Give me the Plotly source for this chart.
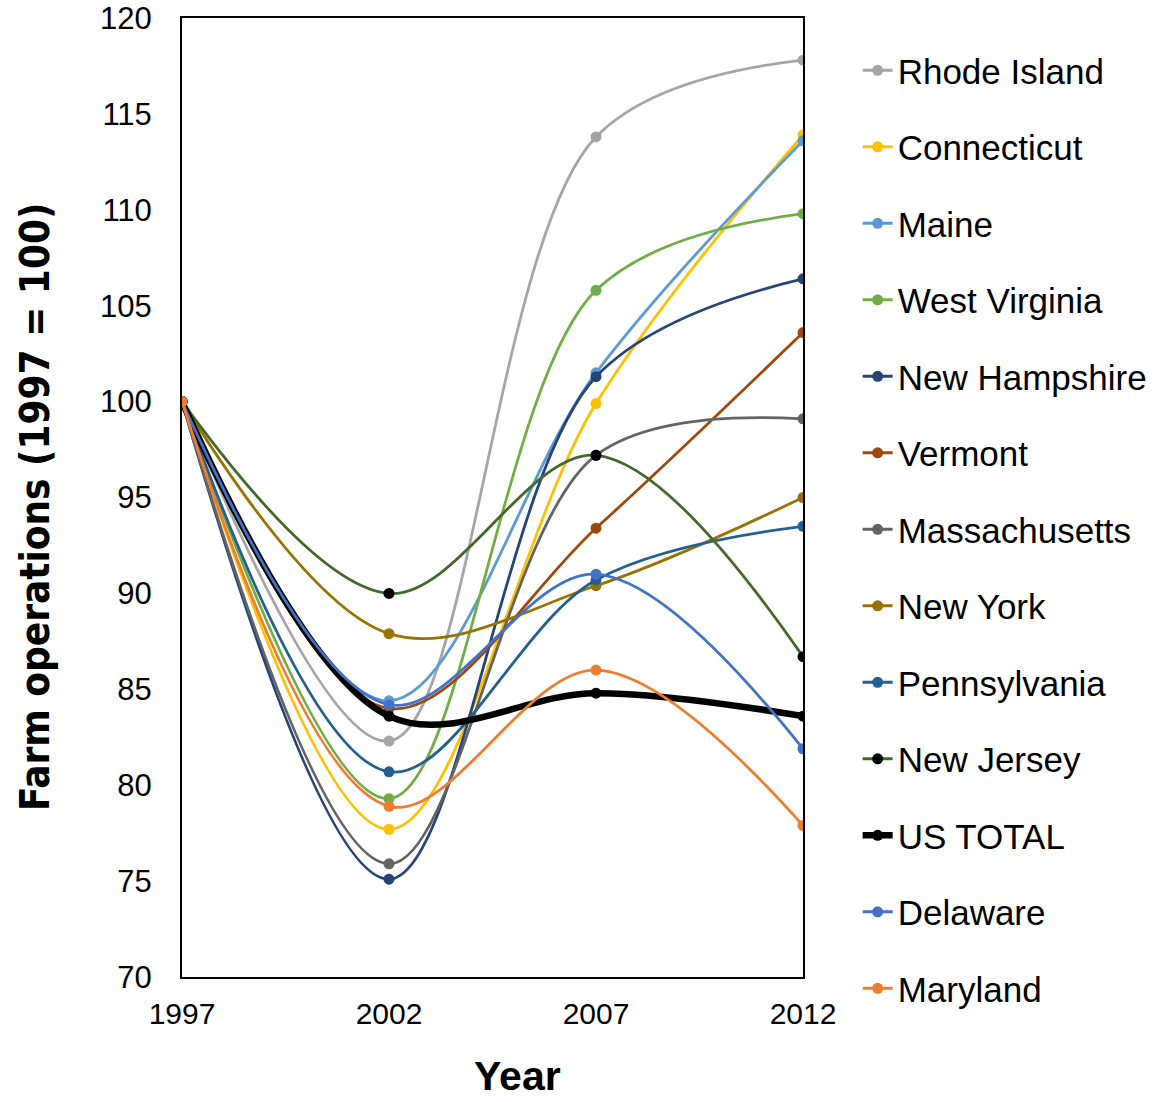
import plotly.graph_objects as go

years = [1997, 2002, 2007, 2012]

states = ["Rhode Island", "Connecticut", "Maine", "West Virginia", "New Hampshire",
          "Vermont", "Massachusetts", "New York", "Pennsylvania", "New Jersey",
          "US TOTAL", "Delaware", "Maryland"]

rhode_island = [100, 82.3, 113.8, 117.8]
connecticut = [100, 77.7, 99.9, 113.9]
maine = [100, 84.4, 101.5, 113.6]
west_virginia = [100, 79.3, 105.8, 109.8]
new_hampshire = [100, 75.1, 101.3, 106.4]
vermont = [100, 84.0, 93.4, 103.6]
massachusetts = [100, 75.9, 97.2, 99.1]
new_york = [100, 87.9, 90.4, 95.0]
pennsylvania = [100, 80.7, 90.7, 93.5]
new_jersey = [100, 90.0, 97.2, 86.7]
us_total = [100, 83.6, 84.8, 83.6]
delaware = [100, 84.2, 91.0, 81.9]
maryland = [100, 78.9, 86.0, 77.9]

values = [rhode_island, connecticut, maine, west_virginia, new_hampshire, vermont,
          massachusetts, new_york, pennsylvania, new_jersey, us_total, delaware, maryland]

line_colors = ["#A5A5A5", "#FFC000", "#5B9BD5", "#70AD47", "#264478", "#9E480E",
               "#636363", "#997300", "#255E91", "#43682B", "#000000", "#4472C4", "#ED7D31"]
marker_colors = ["#A5A5A5", "#FFC000", "#5B9BD5", "#70AD47", "#264478", "#9E480E",
                 "#636363", "#997300", "#255E91", "#000000", "#000000", "#4472C4", "#ED7D31"]

fig = go.Figure()
for name, vals, lc, mc in zip(states, values, line_colors, marker_colors):
    is_us = name == "US TOTAL"
    fig.add_trace(go.Scatter(
        x=years, y=vals, name=name, mode="lines+markers",
        line=dict(color=lc, width=6.5 if is_us else 2.8, shape="spline", smoothing=1.0),
        marker=dict(color=mc, size=11),
        legendgroup=name,
    ))

plot_top, plot_bottom, plot_left, plot_right = 18, 977, 182, 803
ph = plot_bottom - plot_top
pw = plot_right - plot_left

fig.update_layout(
    width=1175, height=1102,
    margin=dict(l=plot_left, r=1175 - plot_right, t=plot_top, b=1102 - plot_bottom),
    paper_bgcolor="white", plot_bgcolor="white",
    font=dict(family="Liberation Sans, Arial, sans-serif", size=24, color="black"),
    showlegend=True,
    legend=dict(
        x=1.088, xanchor="left", y=0.976, yanchor="top",
        font=dict(size=35, color="black"),
        tracegroupgap=28,
        itemwidth=30,
        maxheight=1090,
    ),
    annotations=[
        dict(text="<b>Year</b>", x=(517 - plot_left) / pw, xref="paper",
             y=-(1076 - plot_bottom) / ph, yref="paper", yanchor="middle",
             showarrow=False, font=dict(size=41)),
        dict(text="<b>Farm operations (1997 = 100)</b>", textangle=-90,
             x=(35 - plot_left) / pw, xref="paper", xanchor="center",
             y=(plot_bottom - 507) / ph, yref="paper", yanchor="middle",
             showarrow=False,
             font=dict(family="Liberation Sans Narrow, DejaVu Sans Condensed, Arial Narrow, Arial", size=40)),
    ],
)

fig.update_xaxes(
    range=[1997, 2012], tickvals=years, ticktext=[str(y) for y in years],
    showline=True, linecolor="black", linewidth=2, mirror=True,
    showgrid=False, zeroline=False, ticks="", ticklabelstandoff=9,
    tickfont=dict(size=30), automargin=False,
)
fig.update_yaxes(
    range=[70, 120], dtick=5,
    showline=True, linecolor="black", linewidth=2, mirror=True,
    showgrid=False, zeroline=False, ticks="", ticklabelstandoff=22,
    tickfont=dict(size=31), automargin=False,
)

fig.write_html("out.html")
